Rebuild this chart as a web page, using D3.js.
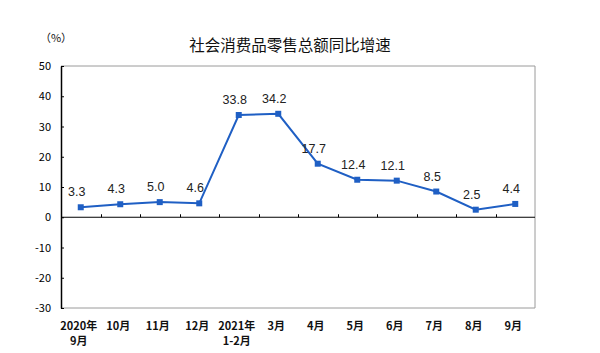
<!DOCTYPE html>
<html>
<head>
<meta charset="utf-8">
<script src="https://cdn.jsdelivr.net/npm/d3@7"></script>
<style>
  body { margin: 0; background: #fff; }
  svg text { font-family: "Liberation Sans", Arial, "Noto Sans CJK SC", sans-serif; }
</style>
</head>
<body>
<div id="chart"></div>
<script>
const months = ["2020年|9月", "10月", "11月", "12月", "2021年|1-2月", "3月", "4月", "5月", "6月", "7月", "8月", "9月"];
const growth = [3.3, 4.3, 5.0, 4.6, 33.8, 34.2, 17.7, 12.4, 12.1, 8.5, 2.5, 4.4];
const yTicks = [50, 40, 30, 20, 10, 0, -10, -20, -30];

var width = 600,
    height = 353,
    margin = {top: 66, right: 65, bottom: 45, left: 61};

var innerW = width - margin.left - margin.right,
    innerH = height - margin.top - margin.bottom;

var svg = d3.select("#chart").append("svg")
    .attr("width", width)
    .attr("height", height);

var g = svg.append("g")
    .attr("transform", `translate(${margin.left},${margin.top})`);

var xScale = d3.scaleBand().domain(months).range([0, innerW]);
var yScale = d3.scaleLinear().domain([-30, 50]).range([innerH, 0]);

// frame
g.append("path")
    .attr("d", `M0,0H${innerW}V${innerH}H0`)
    .attr("fill", "none")
    .attr("stroke", "#9a9a9a")
    .attr("stroke-width", 1);

// Y axis
var yAxis = d3.axisLeft(yScale).tickValues(yTicks).tickFormat(d => String(d))
    .tickSize(-3).tickSizeOuter(0).tickPadding(10);
var ya = g.append("g").call(yAxis);
ya.select(".domain").attr("stroke", "#000").attr("stroke-width", 1.5);
ya.selectAll(".tick line").attr("stroke", "#000");
ya.selectAll(".tick text")
    .attr("fill", "#000")
    .style("font-family", "'Noto Sans CJK SC', sans-serif")
    .style("font-size", "11px");

// zero line with ticks between categories
var y0 = yScale(0);
g.append("line")
    .attr("x1", 0).attr("x2", innerW)
    .attr("y1", y0).attr("y2", y0)
    .attr("stroke", "#000").attr("stroke-width", 1.2);
g.selectAll(".xtick")
    .data(months.slice(1))
    .enter().append("line")
    .attr("class", "xtick")
    .attr("x1", d => Math.round(xScale(d)) + 0.5)
    .attr("x2", d => Math.round(xScale(d)) + 0.5)
    .attr("y1", y0 - 3).attr("y2", y0)
    .attr("stroke", "#000");

// x labels
var xl = g.selectAll(".xlab")
    .data(months)
    .enter().append("text")
    .attr("class", "xlab")
    .attr("text-anchor", "middle")
    .attr("transform", d => `translate(${xScale(d) + xScale.bandwidth() / 2 - 2},${innerH + 22})`)
    .style("font-family", "'Noto Sans CJK SC', sans-serif")
    .style("font-size", "11px")
    .style("font-weight", "bold")
    .attr("fill", "#111");
xl.selectAll("tspan")
    .data(d => d.split("|"))
    .enter().append("tspan")
    .attr("x", 0)
    .attr("dy", (d, i) => i === 0 ? 0 : 15)
    .text(d => d);

// line
var pts = months.map((m, i) => ({m: m, v: growth[i]}));
var line = d3.line()
    .x(d => xScale(d.m) + xScale.bandwidth() / 2)
    .y(d => yScale(d.v));

g.append("path")
    .datum(pts)
    .attr("d", line)
    .attr("fill", "none")
    .attr("stroke", "#1f5fc4")
    .attr("stroke-width", 2);

g.selectAll(".mk")
    .data(pts)
    .enter().append("rect")
    .attr("class", "mk")
    .attr("x", d => xScale(d.m) + xScale.bandwidth() / 2 - 3)
    .attr("y", d => yScale(d.v) - 3)
    .attr("width", 6).attr("height", 6)
    .attr("fill", "#1f5fc4");

g.selectAll(".lab")
    .data(pts)
    .enter().append("text")
    .attr("class", "lab")
    .attr("x", d => xScale(d.m) + xScale.bandwidth() / 2 - 4)
    .attr("y", d => yScale(d.v) - 11)
    .attr("text-anchor", "middle")
    .style("font-size", "12.5px")
    .attr("fill", "#222")
    .text(d => d.v.toFixed(1));

// title and unit
svg.append("text")
    .attr("x", 290).attr("y", 51)
    .attr("text-anchor", "middle")
    .style("font-family", "'Noto Sans CJK SC', sans-serif")
    .style("font-size", "15.5px")
    .attr("fill", "#111")
    .text("社会消费品零售总额同比增速");

svg.append("text")
    .attr("x", 56).attr("y", 42)
    .attr("text-anchor", "middle")
    .style("font-family", "'Noto Sans CJK SC', sans-serif")
    .style("font-size", "11px")
    .attr("fill", "#111")
    .text("（%）");
</script>
</body>
</html>
